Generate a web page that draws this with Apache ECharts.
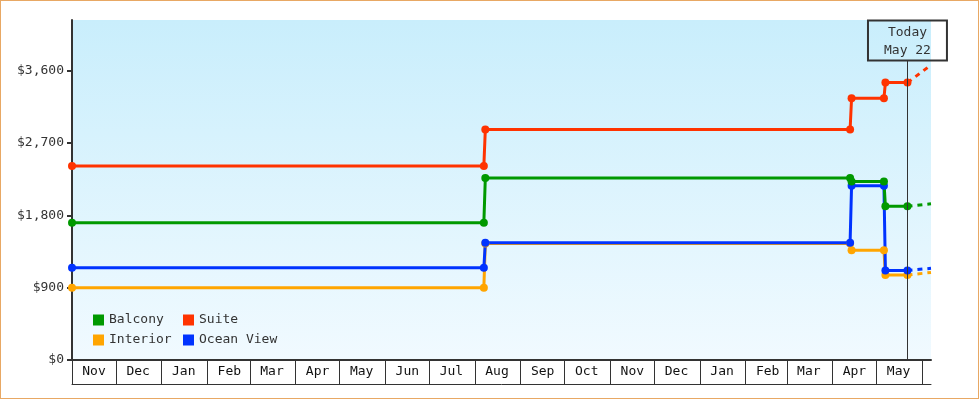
<!DOCTYPE html>
<html>
<head>
<meta charset="utf-8">
<script src="https://cdn.jsdelivr.net/npm/echarts@6/dist/echarts.min.js"></script>
<style>
  html, body { margin: 0; padding: 0; background: #ffffff; }
  #wrap { position: relative; width: 980px; height: 400px; }
  #chart { width: 980px; height: 400px; }
  #frame { position: absolute; left: 0; top: 0; width: 977px; height: 397px; border: 1px solid #e8a864; pointer-events: none; }
</style>
</head>
<body>
<div id="wrap"><div id="chart"></div><div id="frame"></div></div>
<script>
// ---- data ----
const changeDates = ['2023-11-01', '2024-08-07', '2024-08-08', '2025-04-13', '2025-04-14', '2025-05-06', '2025-05-07', '2025-05-22'];
const balcony   = [1706, 1706, 2264, 2264, 2222, 2222, 1912, 1912];
const suite     = [2413, 2413, 2868, 2868, 3257, 3257, 3451, 3451];
const interior  = [900, 900, 1450, 1450, 1365, 1365, 1058, 1058];
const oceanView = [1147, 1147, 1460, 1460, 2169, 2169, 1113, 1113];

const projDates     = ['2025-05-22', '2025-06-07'];
const balconyProj   = [1912, 1944];
const suiteProj     = [3451, 3670];
const interiorProj  = [1058, 1089];
const oceanViewProj = [1113, 1141];

const todayDate = '2025-05-22';
const todayText = 'Today\nMay 22';

const monthStarts = ['2023-11-01', '2023-12-01', '2024-01-01', '2024-02-01', '2024-03-01', '2024-04-01',
  '2024-05-01', '2024-06-01', '2024-07-01', '2024-08-01', '2024-09-01', '2024-10-01', '2024-11-01',
  '2024-12-01', '2025-01-01', '2025-02-01', '2025-03-01', '2025-04-01', '2025-05-01', '2025-06-01'];
const monthLabels = ['Nov', 'Dec', 'Jan', 'Feb', 'Mar', 'Apr', 'May', 'Jun', 'Jul', 'Aug', 'Sep', 'Oct',
  'Nov', 'Dec', 'Jan', 'Feb', 'Mar', 'Apr', 'May'];

const yTicks = [0, 900, 1800, 2700, 3600];
const xMin = '2023-11-01';
const xMax = '2025-06-07';
const yMax = 4230;

// ---- helpers ----
function ts(s) { const p = s.split('-').map(Number); return Date.UTC(p[0], p[1] - 1, p[2]); }
function pairs(ds, vs) { return ds.map((d, i) => [ts(d), vs[i]]); }

const FONT = 'DejaVu Sans Mono';
const tickTs = monthStarts.map(ts);
const labelTs = tickTs.slice(0, monthLabels.length);

const colors = { Balcony: '#009900', Suite: '#ff3300', Interior: '#ffa500', 'Ocean View': '#0033ff' };

function stepSeries(name, vals) {
  return {
    name: name, type: 'line', data: pairs(changeDates, vals),
    color: colors[name],
    lineStyle: { width: 3, color: colors[name] },
    itemStyle: { color: colors[name] },
    symbol: 'circle', symbolSize: 8, showSymbol: true, showAllSymbol: true,
    z: 3
  };
}
function projSeries(name, vals) {
  return {
    name: name + ' (projected)', type: 'line', data: pairs(projDates, vals),
    lineStyle: { width: 3, color: colors[name], type: [5, 5] },
    itemStyle: { color: colors[name] },
    symbol: 'none', z: 2
  };
}

const suiteS = stepSeries('Suite', suite);
suiteS.markLine = {
  silent: true,
  symbol: ['none', 'none'],
  lineStyle: { color: '#333', width: 1, type: 'solid' },
  label: {
    show: true, position: 'end', distance: 0,
    formatter: todayText,
    fontFamily: FONT, fontSize: 13, lineHeight: 18, color: '#333',
    borderColor: '#333', borderWidth: 1, padding: [3, 16, 1, 16],
    backgroundColor: 'transparent'
  },
  data: [[{ coord: [ts(todayDate), 0] }, { coord: [ts(todayDate), 3726] }]]
};

const chart = echarts.init(document.getElementById('chart'), null, { renderer: 'canvas' });
chart.setOption({
  animation: false,
  textStyle: { fontFamily: FONT },
  grid: {
    left: 72, right: 49, top: 20, bottom: 40,
    show: true, borderWidth: 0,
    backgroundColor: new echarts.graphic.LinearGradient(0, 0, 0, 1, [
      { offset: 0, color: '#c9eefc' },
      { offset: 1, color: '#f1faff' }
    ])
  },
  legend: {
    data: ['Balcony', 'Suite', 'Interior', 'Ocean View'],
    left: 93, top: 312, width: 200, padding: 0,
    icon: 'rect', itemWidth: 11, itemHeight: 11, itemGap: 4,
    selectedMode: false,
    textStyle: { fontFamily: FONT, fontSize: 13, color: '#333', width: 70, lineHeight: 16 }
  },
  xAxis: [{
    type: 'value', min: ts(xMin), max: ts(xMax),
    axisLine: { show: true, lineStyle: { color: '#333', width: 2 } },
    axisTick: { show: true, length: 24, inside: false, customValues: tickTs, lineStyle: { color: '#333', width: 1 } },
    axisLabel: {
      show: true, customValues: labelTs, margin: 5,
      fontFamily: FONT, fontSize: 13, color: '#111', align: 'center', padding: [0, 0, 0, 44],
      formatter: function (v) { const i = labelTs.indexOf(v); return i >= 0 ? monthLabels[i] : ''; }
    },
    splitLine: { show: false }
  }, {
    type: 'value', position: 'bottom', offset: 24, min: 0, max: 1,
    axisLine: { show: true, lineStyle: { color: '#333', width: 1 } },
    axisTick: { show: false }, axisLabel: { show: false }, splitLine: { show: false }
  }],
  yAxis: {
    type: 'value', min: 0, max: yMax,
    axisLine: { show: true, lineStyle: { color: '#333', width: 2 } },
    axisTick: { show: true, length: 5, customValues: yTicks, lineStyle: { color: '#333', width: 2 } },
    axisLabel: {
      show: true, customValues: yTicks, margin: 8,
      fontFamily: FONT, fontSize: 13, color: '#333',
      formatter: function (v) { return '$' + v.toLocaleString('en-US'); }
    },
    splitLine: { show: false }
  },
  series: [
    projSeries('Interior', interiorProj),
    projSeries('Ocean View', oceanViewProj),
    projSeries('Balcony', balconyProj),
    projSeries('Suite', suiteProj),
    stepSeries('Interior', interior),
    stepSeries('Ocean View', oceanView),
    stepSeries('Balcony', balcony),
    suiteS
  ]
});
</script>
</body>
</html>
